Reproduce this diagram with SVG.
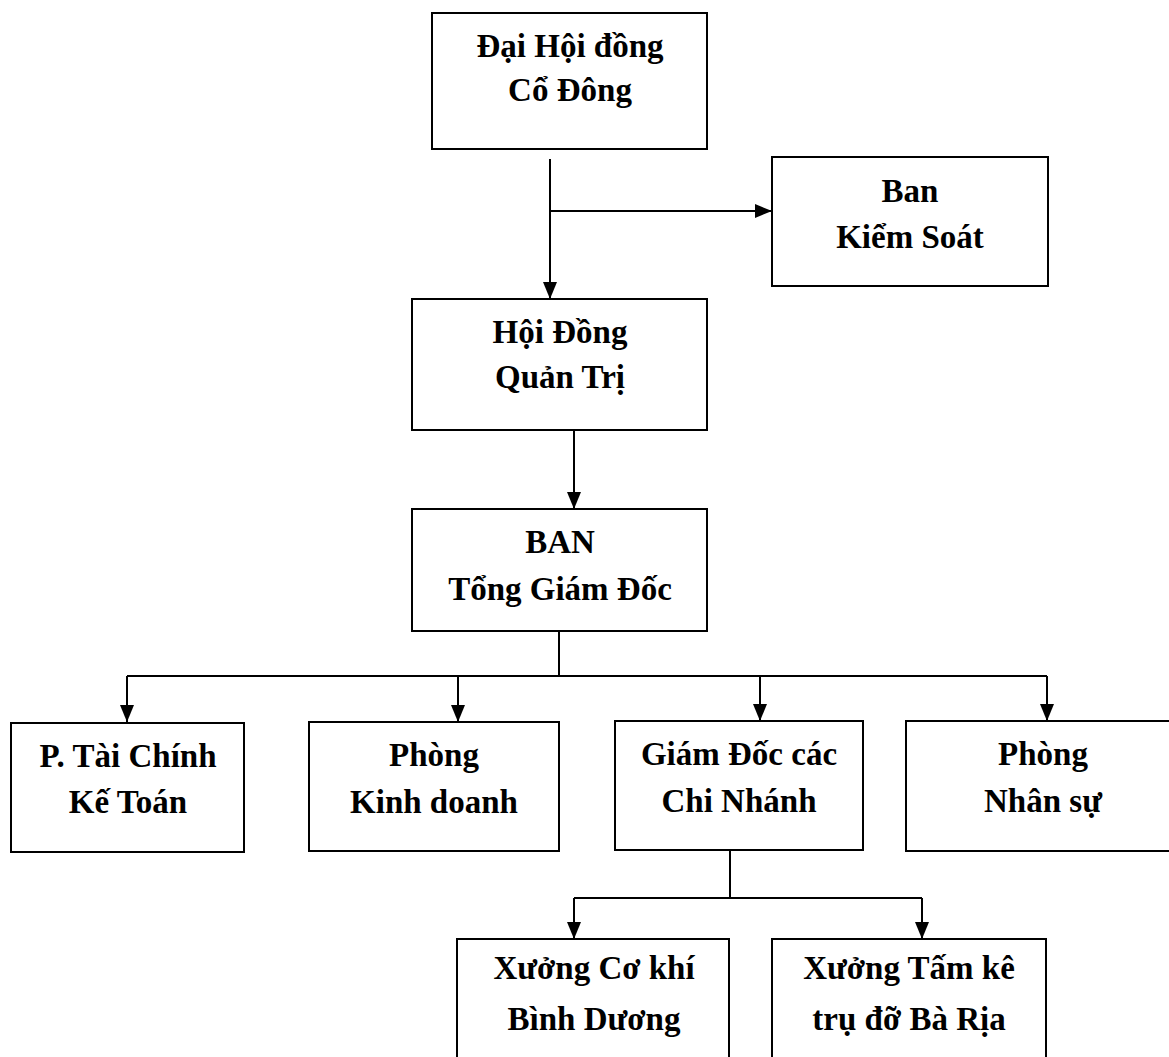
<svg xmlns="http://www.w3.org/2000/svg" width="1169" height="1057" viewBox="0 0 1169 1057">
<style>
.box{fill:#fff;stroke:#000;stroke-width:2}
.lbl{font-family:"Liberation Serif","Times New Roman",serif;font-weight:bold;font-size:33px;fill:#000;text-anchor:middle}
.con{fill:none;stroke:#000;stroke-width:2}
</style>
<defs>
<marker id="arr" markerUnits="userSpaceOnUse" markerWidth="18" markerHeight="15" refX="17" refY="7" orient="auto">
<path d="M0,0 L17,7 L0,14 z" fill="#000"/>
</marker>
</defs>
<rect width="1169" height="1057" fill="#fff"/>
<g id="connectors">
<path class="con" d="M550,159 V299" marker-end="url(#arr)"/>
<path class="con" d="M550,211 H772" marker-end="url(#arr)"/>
<path class="con" d="M574,430 V509" marker-end="url(#arr)"/>
<path class="con" d="M559,631 V676"/>
<path class="con" d="M127,676 H1047"/>
<path class="con" d="M127,676 V722" marker-end="url(#arr)"/>
<path class="con" d="M458,676 V722" marker-end="url(#arr)"/>
<path class="con" d="M760,676 V721" marker-end="url(#arr)"/>
<path class="con" d="M1047,676 V721" marker-end="url(#arr)"/>
<path class="con" d="M730,850 V898"/>
<path class="con" d="M574,898 H922"/>
<path class="con" d="M574,898 V939" marker-end="url(#arr)"/>
<path class="con" d="M922,898 V939" marker-end="url(#arr)"/>
</g>
<g id="dhdcd">
<rect class="box" x="432" y="13" width="275" height="136"/>
<text class="lbl" x="570" y="57">Đại Hội đồng</text>
<text class="lbl" x="570" y="101">Cổ Đông</text>
</g>
<g id="bks">
<rect class="box" x="772" y="157" width="276" height="129"/>
<text class="lbl" x="910" y="202">Ban</text>
<text class="lbl" x="910" y="248">Kiểm Soát</text>
</g>
<g id="hdqt">
<rect class="box" x="412" y="299" width="295" height="131"/>
<text class="lbl" x="560" y="343">Hội Đồng</text>
<text class="lbl" x="560" y="388">Quản Trị</text>
</g>
<g id="btgd">
<rect class="box" x="412" y="509" width="295" height="122"/>
<text class="lbl" x="560" y="553">BAN</text>
<text class="lbl" x="560" y="600">Tổng Giám Đốc</text>
</g>
<g id="tckt">
<rect class="box" x="11" y="723" width="233" height="129"/>
<text class="lbl" x="128" y="767">P. Tài Chính</text>
<text class="lbl" x="128" y="813">Kế Toán</text>
</g>
<g id="pkd">
<rect class="box" x="309" y="722" width="250" height="129"/>
<text class="lbl" x="434" y="766">Phòng</text>
<text class="lbl" x="434" y="813">Kinh doanh</text>
</g>
<g id="gdcn">
<rect class="box" x="615" y="721" width="248" height="129"/>
<text class="lbl" x="739" y="765">Giám Đốc các</text>
<text class="lbl" x="739" y="812">Chi Nhánh</text>
</g>
<g id="pns">
<rect class="box" x="906" y="721" width="278" height="130"/>
<text class="lbl" x="1043" y="765">Phòng</text>
<text class="lbl" x="1043" y="812">Nhân sự</text>
</g>
<g id="xckbd">
<rect class="box" x="457" y="939" width="272" height="130"/>
<text class="lbl" x="594" y="979">Xưởng Cơ khí</text>
<text class="lbl" x="594" y="1030">Bình Dương</text>
</g>
<g id="xtkbr">
<rect class="box" x="772" y="939" width="274" height="130"/>
<text class="lbl" x="909" y="979">Xưởng Tấm kê</text>
<text class="lbl" x="909" y="1030">trụ đỡ Bà Rịa</text>
</g>
</svg>
